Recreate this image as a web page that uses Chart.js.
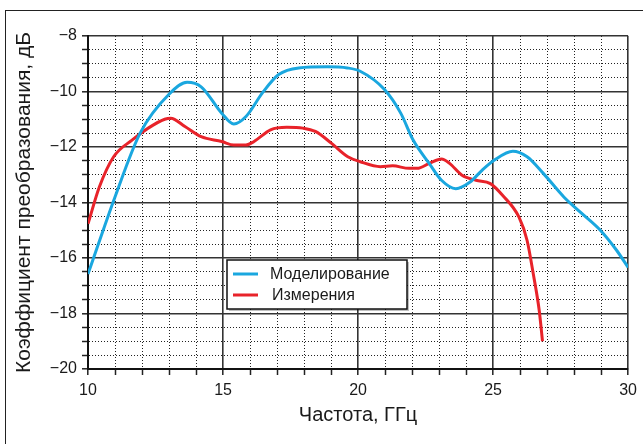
<!DOCTYPE html>
<html>
<head>
<meta charset="utf-8">
<script src="https://cdn.jsdelivr.net/npm/chart.js@4/dist/chart.umd.min.js"></script>
<style>
html,body{margin:0;padding:0;background:#fff;}
#wrap{width:643px;height:444px;position:relative;}
</style>
</head>
<body>
<div id="wrap"><canvas id="c" width="643" height="444"></canvas></div>
<script>
const seriesNames = ['Моделирование', 'Измерения'];
const xTitle = 'Частота, ГГц';
const yTitle = 'Коэффициент преобразования, дБ';

const freqModel = [10, 11, 11.93, 13, 13.67, 14.2, 14.95, 15.4, 15.85, 16.46, 17.06, 17.8, 18.87, 19.6, 20.08, 20.98, 21.58, 22.04, 22.64, 23.09, 23.62, 24.15, 24.6, 25.05, 25.73, 26.26, 26.86, 27.62, 28.22, 28.97, 29.58, 30];
const valsModel = [-16.58, -13.8, -11.5, -10.1, -9.67, -9.84, -10.78, -11.17, -10.9, -10.05, -9.39, -9.15, -9.11, -9.15, -9.27, -9.93, -10.78, -11.75, -12.6, -13.2, -13.5, -13.26, -12.83, -12.47, -12.15, -12.35, -12.95, -13.8, -14.34, -15.0, -15.73, -16.34];

const freqMeas = [10, 10.42, 10.95, 11.63, 12.23, 12.84, 13.06, 13.59, 14.19, 14.95, 15.4, 15.85, 16.15, 16.76, 17.36, 17.96, 18.42, 19.02, 19.62, 20.08, 20.83, 21.28, 21.89, 22.19, 22.64, 23.09, 23.39, 23.85, 24.37, 24.9, 25.35, 25.96, 26.26, 26.49, 26.71, 26.83];
const valsMeas = [-14.77, -13.44, -12.35, -11.75, -11.32, -11.0, -10.96, -11.26, -11.63, -11.8, -11.93, -11.93, -11.8, -11.38, -11.29, -11.32, -11.44, -11.87, -12.35, -12.53, -12.71, -12.68, -12.77, -12.77, -12.59, -12.43, -12.59, -13.02, -13.2, -13.32, -13.74, -14.53, -15.37, -16.58, -17.9, -19.0];

const xMin = 10, xMax = 30, xStep = 1, xMajor = 5;
const yMin = -20, yMax = -8, yStep = 0.5, yMajor = 2;

const colors = ['#1aa7df', '#e8232a'];
const FONT = 'Liberation Sans, Arial, sans-serif';

function toPts(xs, ys){ return xs.map((x,i)=>({x:x, y:ys[i]})); }

const framePlugin = {
  id:'frame',
  beforeDraw(chart){
    const ctx = chart.ctx;
    ctx.save();
    ctx.fillStyle = '#fff';
    ctx.fillRect(0,0,chart.width,chart.height);
    ctx.strokeStyle = '#222';
    ctx.lineWidth = 1;
    ctx.strokeRect(5.5, 10.5, chart.width + 20, chart.height + 20);
    ctx.restore();
  }
};

const legendPlugin = {
  id:'boxLegend',
  afterDraw(chart){
    const ctx = chart.ctx;
    const x0 = 227, y0 = 260, w = 180, h = 49;
    ctx.save();
    ctx.fillStyle = 'rgba(0,0,0,0.25)';
    ctx.fillRect(x0+2, y0+2, w, h);
    ctx.fillStyle = '#fff';
    ctx.fillRect(x0, y0, w, h);
    ctx.strokeStyle = '#111';
    ctx.lineWidth = 1.5;
    ctx.strokeRect(x0, y0, w, h);
    ctx.font = '16px ' + FONT;
    ctx.textBaseline = 'middle';
    chart.data.datasets.forEach((ds, i) => {
      const yy = y0 + 14 + i*21;
      ctx.strokeStyle = ds.borderColor;
      ctx.lineWidth = 3;
      ctx.beginPath();
      ctx.moveTo(x0+6, yy);
      ctx.lineTo(x0+31, yy);
      ctx.stroke();
      ctx.fillStyle = '#1a1a1a';
      ctx.fillText(ds.label, x0 + 43 + (i===1?2:0), yy + 1);
    });
    ctx.restore();
  }
};

function isMajor(v, m){ return Math.abs(v/m - Math.round(v/m)) < 1e-6; }

new Chart(document.getElementById('c'), {
  type:'scatter',
  data:{
    datasets:[
      {label:seriesNames[0], data:toPts(freqModel, valsModel), showLine:true, borderColor:colors[0], backgroundColor:colors[0], borderWidth:3, pointRadius:0, cubicInterpolationMode:'monotone'},
      {label:seriesNames[1], data:toPts(freqMeas, valsMeas), showLine:true, borderColor:colors[1], backgroundColor:colors[1], borderWidth:3, pointRadius:0, cubicInterpolationMode:'monotone'}
    ]
  },
  options:{
    responsive:false,
    animation:false,
    layout:{padding:{left:0, right:13, top:36, bottom:0}},
    plugins:{legend:{display:false}, tooltip:{enabled:false}},
    scales:{
      x:{
        type:'linear', min:xMin, max:xMax,
        afterFit(s){ s.height = 75; },
        ticks:{stepSize:xStep, autoSkip:false, maxRotation:0, padding:6, color:'#1a1a1a', font:{family:FONT, size:16},
          callback:(v)=> isMajor(v, xMajor) ? String(v) : ''},
        grid:{
          color:(c)=> (c.tick && isMajor(c.tick.value, xMajor)) ? '#333' : '#222',
          lineWidth:(c)=> (c.tick && isMajor(c.tick.value, xMajor)) ? 1.6 : 1,
          tickLength:6, tickColor:'#222', tickWidth:1.5, tickBorderDash:[]
        },
        border:{display:true, color:'#111', width:2,
          dash:(c)=> (c.tick && !isMajor(c.tick.value, xMajor)) ? [1,2] : []},
        title:{display:true, text:xTitle, color:'#1a1a1a', font:{family:FONT, size:20}, padding:{top:0, bottom:17}}
      },
      y:{
        type:'linear', min:yMin, max:yMax,
        afterFit(s){ s.width = 88; },
        ticks:{stepSize:yStep, autoSkip:false, padding:5, color:'#1a1a1a', font:{family:FONT, size:16},
          callback:(v)=> isMajor(v, yMajor) ? (v < 0 ? '\u2212' + Math.abs(v) : String(v)) : ''},
        grid:{
          color:(c)=> (c.tick && isMajor(c.tick.value, yMajor)) ? '#333' : '#222',
          lineWidth:(c)=> (c.tick && isMajor(c.tick.value, yMajor)) ? 1.6 : 1,
          tickLength:6, tickColor:'#222', tickWidth:1.5, tickBorderDash:[]
        },
        border:{display:true, color:'#111', width:2,
          dash:(c)=> (c.tick && !isMajor(c.tick.value, yMajor)) ? [1,2] : []},
        title:{display:true, text:yTitle, color:'#1a1a1a', font:{family:FONT, size:21}, padding:{top:12, bottom:0}}
      }
    }
  },
  plugins:[framePlugin, legendPlugin]
});
</script>
</body>
</html>
